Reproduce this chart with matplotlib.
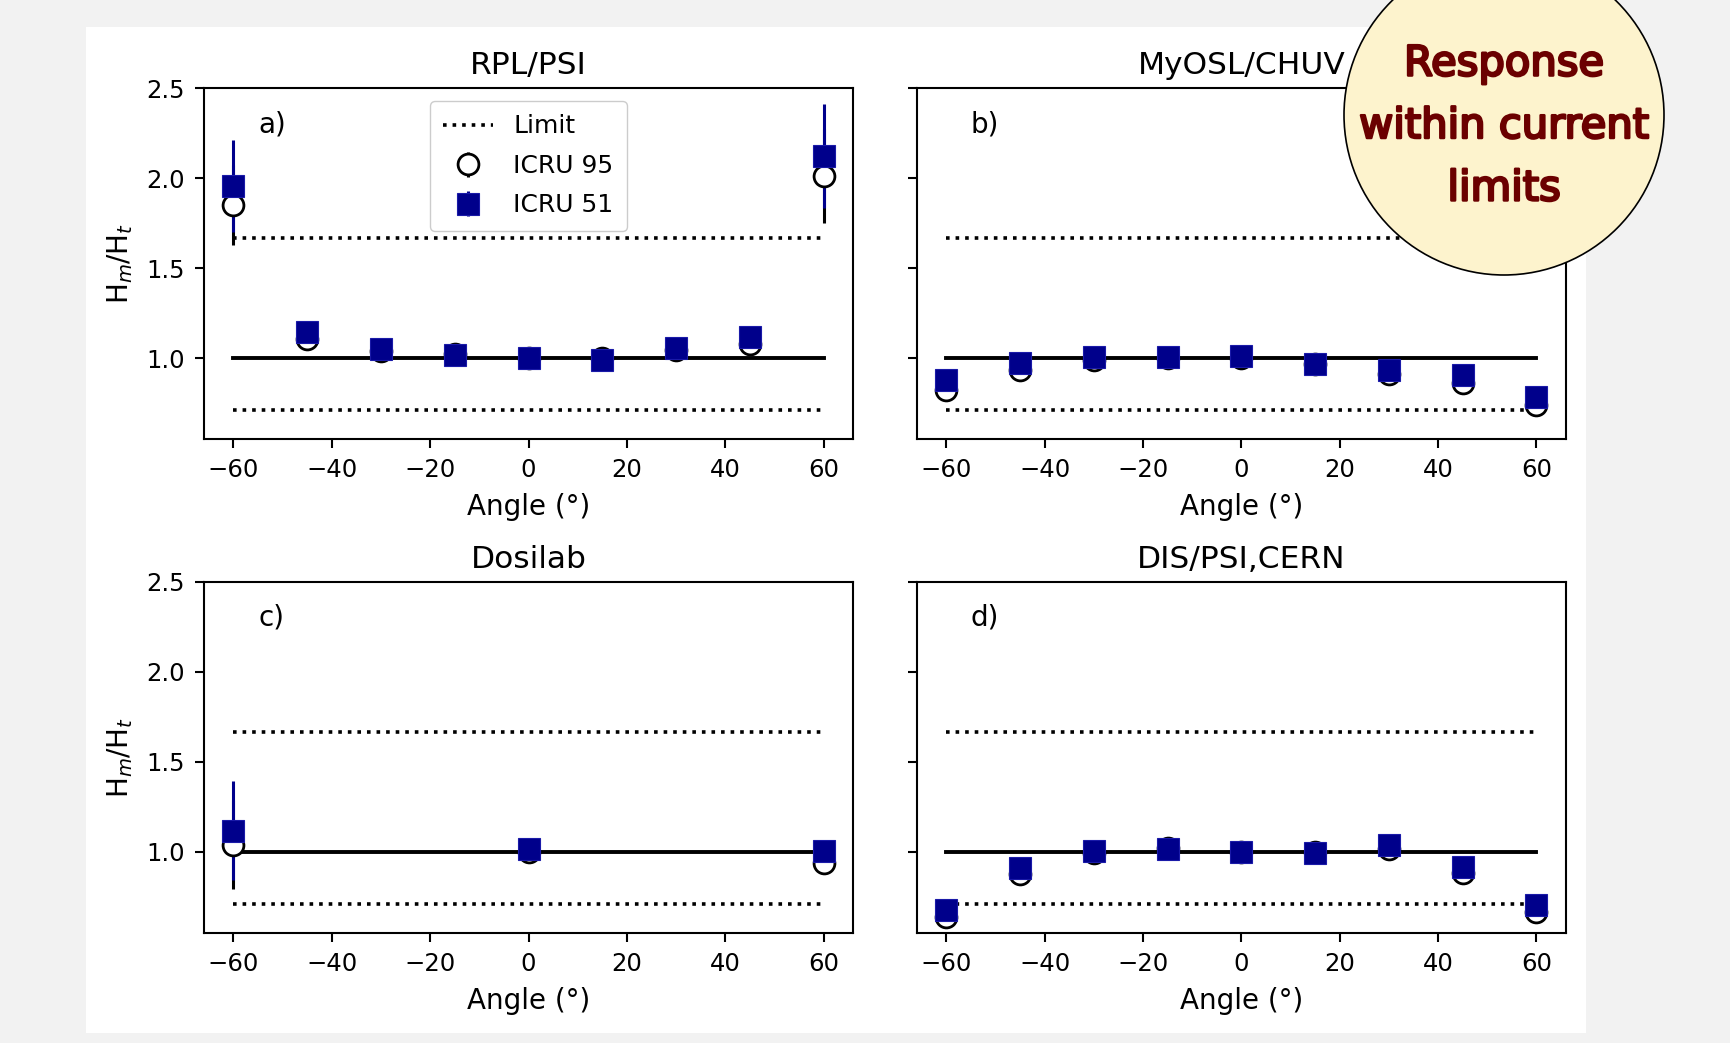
import numpy as np
import matplotlib
matplotlib.use('Agg')
import matplotlib.pyplot as plt
from matplotlib.patches import Rectangle, Ellipse
import matplotlib.patheffects as pe

# Angles of irradiation (degrees)
ANGLES_FULL = [-60, -45, -30, -15, 0, 15, 30, 45, 60]
ANGLES_DOSILAB = [-60, 0, 60]

# Trumpet limits and reference response
LIMIT_UP = 1 / 0.6
LIMIT_LO = 0.71
REF = 1.0

# a) RPL/PSI
rpl_icru95 = [1.85, 1.106, 1.037, 1.02, 1.0, 1.0, 1.043, 1.078, 2.01]
rpl_icru95_err = [0.22, 0.03, 0.02, 0.02, 0.02, 0.02, 0.02, 0.03, 0.26]
rpl_icru51 = [1.955, 1.147, 1.052, 1.016, 0.998, 0.99, 1.055, 1.118, 2.123]
rpl_icru51_err = [0.255, 0.03, 0.02, 0.02, 0.02, 0.02, 0.02, 0.03, 0.29]

# b) MyOSL/CHUV
myosl_icru95 = [0.824, 0.933, 0.987, 1.0, 1.0, 0.965, 0.913, 0.86, 0.737]
myosl_icru95_err = [0.02] * 9
myosl_icru51 = [0.876, 0.974, 1.007, 1.003, 1.011, 0.969, 0.932, 0.904, 0.785]
myosl_icru51_err = [0.02] * 9

# c) Dosilab
dosilab_icru95 = [1.041, 1.0, 0.936]
dosilab_icru95_err = [0.245, 0.02, 0.02]
dosilab_icru51 = [1.118, 1.019, 1.008]
dosilab_icru51_err = [0.275, 0.02, 0.02]

# d) DIS/PSI,CERN
dis_icru95 = [0.638, 0.88, 0.993, 1.024, 1.0, 0.998, 1.019, 0.884, 0.665]
dis_icru95_err = [0.02] * 9
dis_icru51 = [0.675, 0.912, 1.008, 1.015, 1.0, 0.993, 1.04, 0.915, 0.705]
dis_icru51_err = [0.02] * 9

PANELS = [
    ('RPL/PSI', 'a)', ANGLES_FULL, rpl_icru95, rpl_icru95_err, rpl_icru51, rpl_icru51_err),
    ('MyOSL/CHUV', 'b)', ANGLES_FULL, myosl_icru95, myosl_icru95_err, myosl_icru51, myosl_icru51_err),
    ('Dosilab', 'c)', ANGLES_DOSILAB, dosilab_icru95, dosilab_icru95_err, dosilab_icru51, dosilab_icru51_err),
    ('DIS/PSI,CERN', 'd)', ANGLES_FULL, dis_icru95, dis_icru95_err, dis_icru51, dis_icru51_err),
]

plt.rcParams['font.family'] = ['DejaVu Sans']

fig = plt.figure(figsize=(17.3, 10.43), dpi=100, facecolor='#f2f2f2')
# white slide area behind the chart
fig.patches.append(Rectangle((0.0497, 0.0096), 0.867, 0.9645, transform=fig.transFigure,
                             facecolor='white', edgecolor='none', zorder=-1))

W, H = 0.3752, 0.3365
rects = [(0.1179, 0.5791), (0.5300, 0.5791), (0.1179, 0.1055), (0.5300, 0.1055)]

NAVY = '#00008b'

for i, (title, tag, ang, v95, e95, v51, e51) in enumerate(PANELS):
    ax = fig.add_axes([rects[i][0], rects[i][1], W, H])
    ax.set_facecolor('white')

    lo, hi = min(ang), max(ang)
    ax.plot([lo, hi], [LIMIT_UP, LIMIT_UP], 'k:', lw=2.6, label='Limit')
    ax.plot([lo, hi], [LIMIT_LO, LIMIT_LO], 'k:', lw=2.6)
    ax.plot([lo, hi], [REF, REF], 'k-', lw=2.8)

    ax.errorbar(ang, v95, yerr=e95, fmt='o', ms=15, mfc='white', mec='black', mew=2,
                ecolor='black', elinewidth=2.2, capsize=0, label='ICRU 95')
    ax.errorbar(ang, v51, yerr=e51, fmt='s', ms=16, mfc=NAVY, mec='#1a1aa8', mew=0.8,
                ecolor=NAVY, elinewidth=2.2, capsize=0, label='ICRU 51')

    ax.set_xlim(-66, 66)
    ax.set_ylim(0.55, 2.5)
    ax.set_xticks([-60, -40, -20, 0, 20, 40, 60])
    ax.set_yticks([1.0, 1.5, 2.0, 2.5])
    ax.tick_params(labelsize=17.5, length=6.5, width=1.5, pad=7.5)
    for s in ax.spines.values():
        s.set_linewidth(1.5)

    ax.set_title(title, fontsize=22.5, pad=10)
    ax.set_xlabel('Angle (°)', fontsize=20, labelpad=7.5)
    ax.text(-55, 2.3, tag, fontsize=20, va='center', ha='left')

    if i % 2 == 0:
        ax.set_ylabel('H$_m$/H$_t$', fontsize=20, labelpad=8)
    else:
        ax.set_yticklabels([])

    if i == 0:
        ax.legend(loc='upper center', fontsize=18, framealpha=1, borderpad=0.55,
                  labelspacing=0.62)

# highlight bubble in the top right corner
fig.patches.append(Ellipse((1504 / 1730, 1 - 115 / 1043), 320 / 1730, 320 / 1043,
                           transform=fig.transFigure, facecolor='#fdf3cd',
                           edgecolor='black', lw=1.2, zorder=5))
fig.text(1504 / 1730, 1 - 126 / 1043, 'Response\nwithin current\nlimits', ha='center', va='center',
         fontsize=30, color='#6b0000', linespacing=1.62, zorder=6,
         path_effects=[pe.withStroke(linewidth=1.8, foreground='#6b0000')])

fig.savefig('out.png', dpi=100, facecolor=fig.get_facecolor())
